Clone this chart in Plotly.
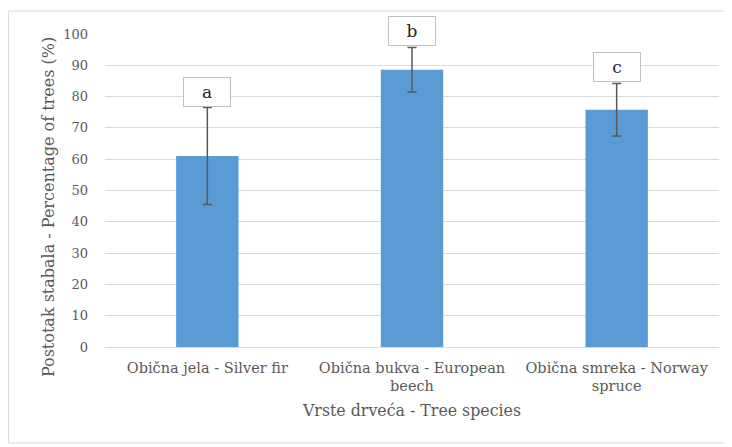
import plotly.graph_objects as go

categories = ["Obična jela - Silver fir", "Obična bukva - European<br>beech", "Obična smreka - Norway<br>spruce"]
values = [61.0, 88.6, 75.8]
errors = [15.5, 7.1, 8.4]
letters = ["a", "b", "c"]
y_ticks = [0, 10, 20, 30, 40, 50, 60, 70, 80, 90, 100]
y_title = "Postotak stabala - Percentage of trees (%)"
x_title = "Vrste drveća - Tree species"

serif = "DejaVu Serif"

fig = go.Figure()
fig.add_trace(go.Bar(
    x=categories, y=values,
    marker=dict(color="#5b9bd5", line=dict(width=0)),
    width=0.305,
    error_y=dict(type="data", array=errors, visible=True, color="#595959", thickness=1.5, width=4.5),
))

for c, v, e, t in zip(categories, values, errors, letters):
    fig.add_annotation(
        x=c, y=v + e, xref="x", yref="y", text=t, showarrow=False,
        yanchor="bottom", yshift=1,
        font=dict(family=serif, size=17, color="#262626"),
        bgcolor="white", bordercolor="#bfbfbf", borderwidth=1, borderpad=1,
        width=44, height=26,
    )

# y-axis title (placed like the original, slightly below the plot centre)
fig.add_annotation(
    x=-0.0928, y=0.447, xref="paper", yref="paper", text=y_title, showarrow=False,
    textangle=-90, xanchor="center", yanchor="middle",
    font=dict(family=serif, size=16, color="#595959"),
)

fig.add_shape(type="rect", xref="paper", yref="paper",
              x0=-0.157, x1=1.03, y0=-0.3067, y1=1.0735,
              line=dict(color="#d9d9d9", width=1), fillcolor="rgba(0,0,0,0)", layer="below")

fig.update_layout(
    width=724, height=439,
    margin=dict(l=97, r=13, t=26, b=100, autoexpand=False),
    paper_bgcolor="white", plot_bgcolor="white",
    showlegend=False,
    font=dict(family=serif, color="#595959", size=14),
    xaxis=dict(
        showline=False, showgrid=False, ticks="", tickangle=0, automargin=False,
        tickfont=dict(family=serif, size=14.5, color="#595959"),
        ticklabelstandoff=10,
        title=dict(text=x_title, font=dict(family=serif, size=15.8, color="#595959"), standoff=11),
    ),
    yaxis=dict(
        range=[0, 100], tickvals=y_ticks, ticks="", showline=False, automargin=False,
        gridcolor="#d9d9d9", gridwidth=1, zeroline=True, zerolinecolor="#d9d9d9", zerolinewidth=1,
        tickfont=dict(family=serif, size=13, color="#595959"),
        ticklabelstandoff=16,
    ),
)

fig.write_html("out.html")
